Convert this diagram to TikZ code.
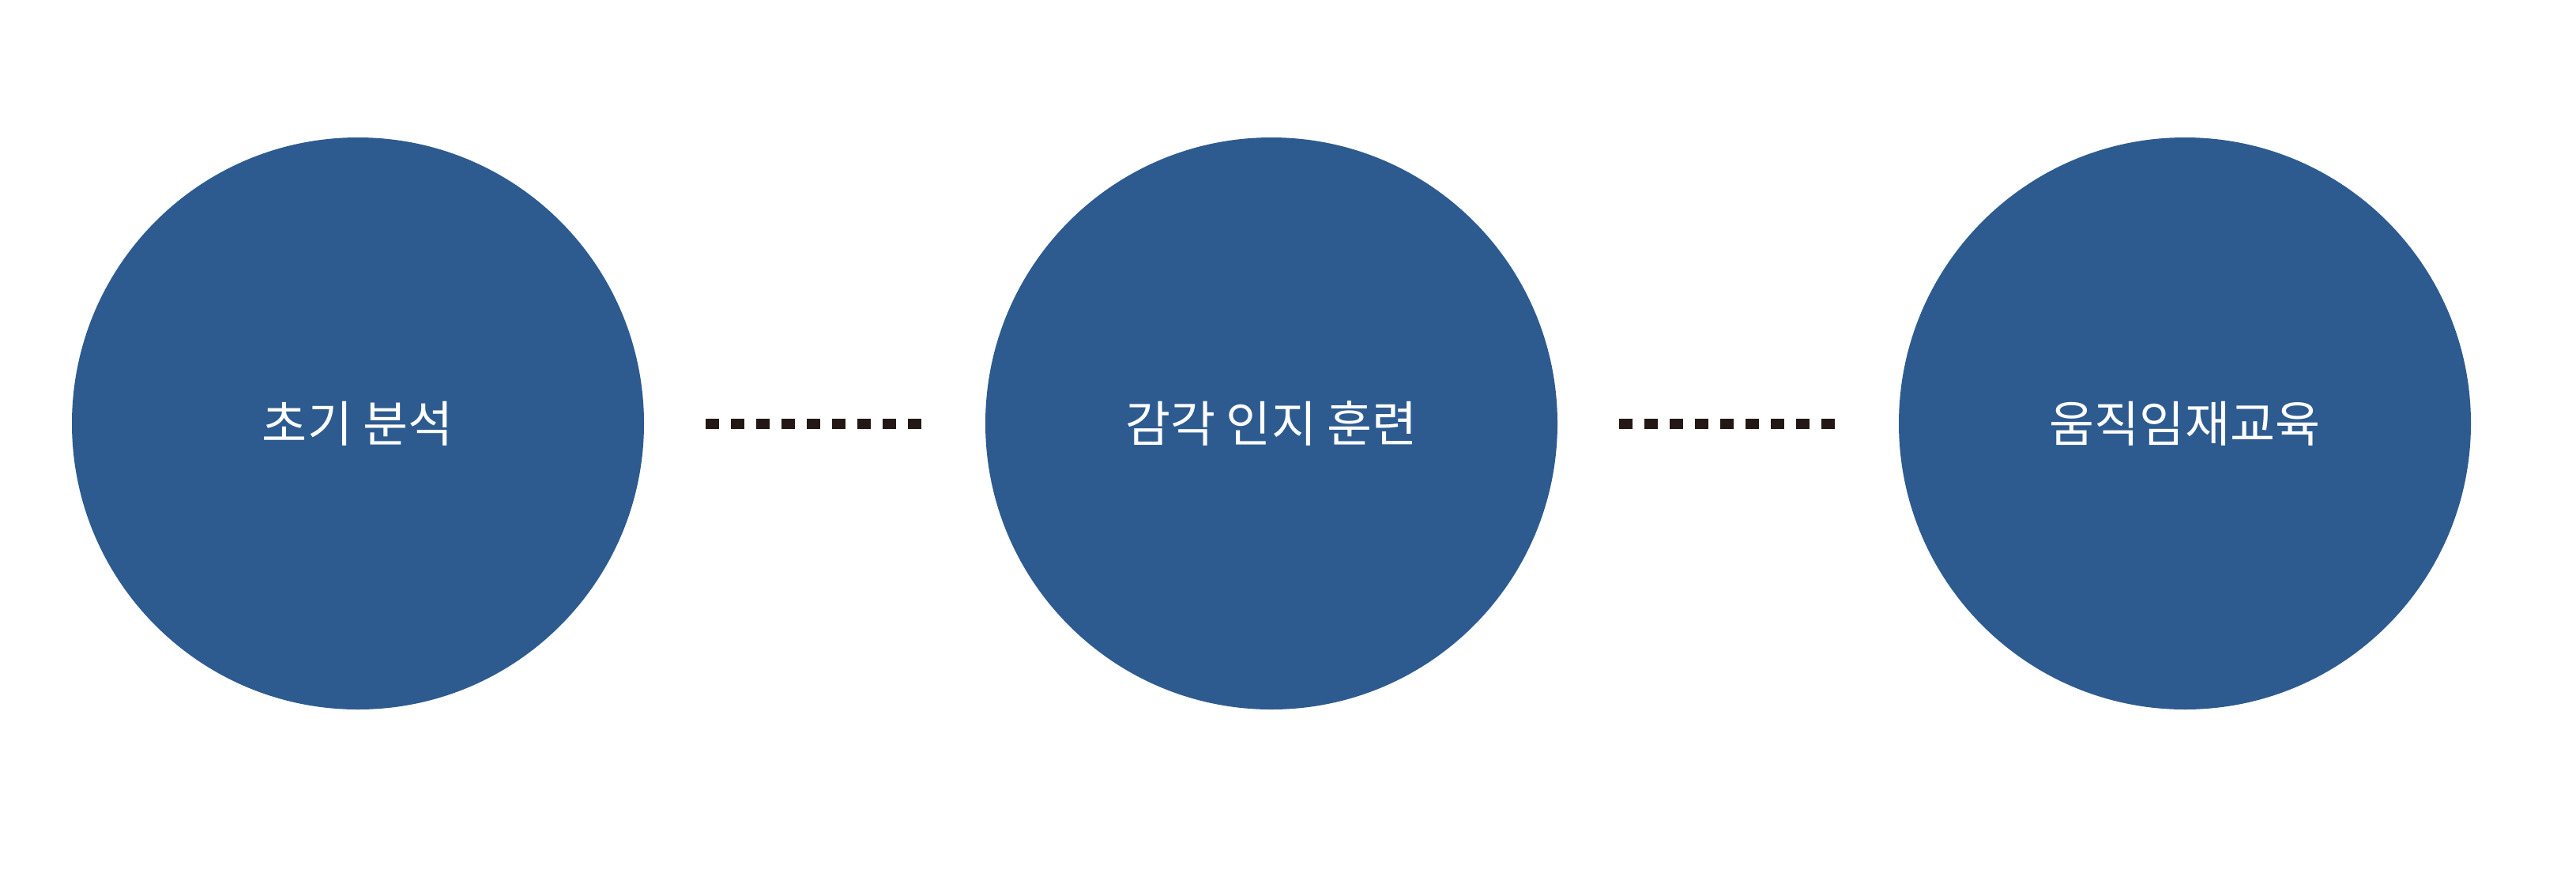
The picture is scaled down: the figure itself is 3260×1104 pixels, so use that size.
\documentclass[tikz,border=0pt]{standalone}
\usepackage{fontspec}
\newfontfamily\kr{Noto Sans CJK KR}
\definecolor{stepblue}{RGB}{45,91,143}
\definecolor{dotdark}{RGB}{35,24,21}
\begin{document}
\begin{tikzpicture}[x=1pt,y=-1pt]
\tikzset{stage/.style={circle,fill=stepblue,minimum size=724pt,inner sep=0pt,text=white,font=\kr\fontsize{62}{70}\selectfont},
link/.style={dotdark,line width=13pt,dash pattern=on 17pt off 15pt,shorten <=78pt,shorten >=78pt}}
\useasboundingbox (0,0) rectangle (3260,1104);

% stages
\node[stage] (init) at (453,536) {초기 분석};
\node[stage] (train) at (1609,536) {감각 인지 훈련};
\node[stage] (edu) at (2765,536) {움직임재교육};

% links
\draw[link] (init.east) -- (train.west);
\draw[link] (train.east) -- (edu.west);

\end{tikzpicture}
\end{document}
